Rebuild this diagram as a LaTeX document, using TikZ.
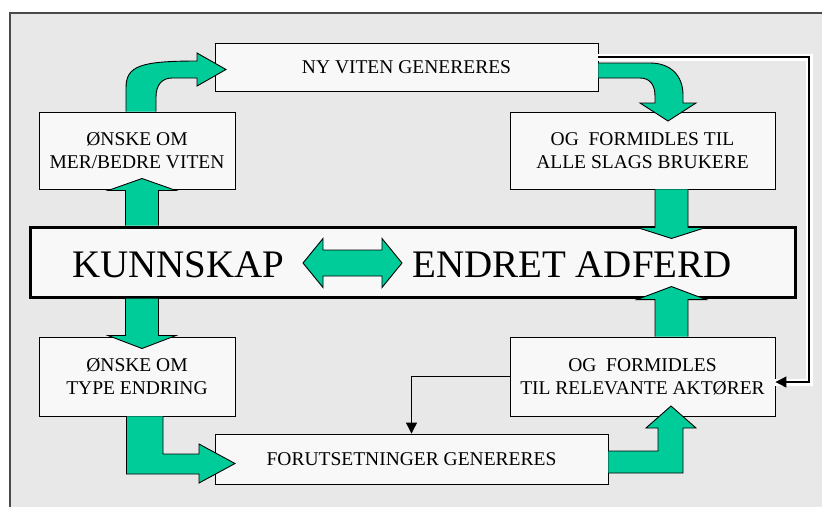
\documentclass[tikz,border=0pt]{standalone}
\usepackage{fontspec}
\setmainfont{Liberation Serif}
\usepackage{tikz}
\usetikzlibrary{arrows.meta}
\definecolor{bggray}{HTML}{E8E8E8}
\definecolor{boxfill}{HTML}{F8F8F8}
\definecolor{flowgreen}{HTML}{00CC99}
\definecolor{framegray}{HTML}{4A4A4A}

\begin{document}
\begin{tikzpicture}[
  x=1pt, y=-1pt,
  stepbox/.style={
    draw=black, fill=boxfill, line width=0.9pt,
    align=center, inner sep=0pt,
    font=\fontsize{19.5pt}{22.6pt}\selectfont
  },
  mainbox/.style={draw=black, fill=boxfill, line width=3pt, inner sep=0pt},
  bigtext/.style={font=\fontsize{39pt}{44pt}\selectfont, anchor=base, inner sep=0pt},
  blockarrow/.style={draw=black, fill=flowgreen, line width=0.9pt, line join=miter},
  thinarrow/.style={draw=black, line width=1.1pt, -{Triangle[length=11pt, width=11pt]}},
  halo/.style={draw=white, line width=7pt}
]

\useasboundingbox (0,0) rectangle (822,507);

% ---- Bakgrunn ----
\fill[bggray] (10,13) rectangle (822,507);
\draw[framegray, line width=1.5pt] (10,507) -- (10,13) -- (822,13);

% ---- Bokser ----
\node[stepbox, minimum width=383pt, minimum height=48pt] (nyviten) at (406.5,67)
  {NY VITEN GENERERES};
\node[stepbox, minimum width=196pt, minimum height=77pt] (mer) at (137,150.5)
  {ØNSKE OM\\MER/BEDRE VITEN};
\node[stepbox, minimum width=265pt, minimum height=77pt] (alle) at (642.5,150.5)
  {OG\ \ FORMIDLES TIL\\ALLE SLAGS BRUKERE};
\node[mainbox, minimum width=765pt, minimum height=70pt] (big) at (412.5,262) {};
\node[stepbox, minimum width=196pt, minimum height=79pt] (type) at (137,376.5)
  {ØNSKE OM\\TYPE ENDRING};
\node[stepbox, minimum width=265pt, minimum height=79pt] (relevant) at (642.5,376.5)
  {OG\ \ FORMIDLES\\TIL RELEVANTE AKTØRER};
\node[stepbox, minimum width=393pt, minimum height=50pt] (forut) at (411.5,459)
  {FORUTSETNINGER GENERERES};

% ---- Hovedtekst ----
\node[bigtext] (kunn) at (178.5,277) {KUNNSKAP};
\node[bigtext] (endret) at (572,277) {ENDRET ADFERD};
\filldraw[blockarrow] (303,263) -- (323,238.5) -- (323,250) -- (382,250) -- (382,238.5)
  -- (402,263) -- (382,287.5) -- (382,276) -- (323,276) -- (323,287.5) -- cycle;

% ---- Tynne piler ----
\draw[halo] (nyviten.east |- 0,57) -- (809,57) -- (809,382) -- (relevant.east |- 0,382);
\draw[thinarrow] (nyviten.east |- 0,57) -- (809,57) -- (809,382) -- (relevant.east |- 0,382);
\draw[thinarrow] (relevant.west) -| (forut.north);

% ---- Grønne piler ----
% opp til ønske om mer/bedre viten
\filldraw[blockarrow] (125.5,0 |- big.north) -- ++(0,-35) -- ++(-17.5,0) -- ++(34,-12)
  -- ++(34,12) -- ++(-17.5,0) -- ++(0,35);
% buet pil til ny viten
\filldraw[blockarrow] (126,0 |- mer.north) -- (126,88) .. controls (126,66) and (140,61) .. (197,61)
  -- (197,53) -- (226,69.5) -- (197,86) -- (197,78) -- (172,78)
  .. controls (162,78) and (156,85) .. (156,97) -- (156,0 |- mer.north);
% buet pil ned til alle slags brukere
\filldraw[blockarrow] (nyviten.east |- 0,63) -- (650,63) .. controls (670,63) and (683,75) .. (683,95)
  -- (683,103) -- (696,103) -- (668,121) -- (640,103) -- (655,103) -- (655,96)
  .. controls (655,85) and (650,78) .. (640,78) -- (nyviten.east |- 0,78);
% ned til endret adferd
\filldraw[blockarrow] (655,0 |- alle.south) -- ++(0,38) -- ++(-18,0) -- ++(34.5,11)
  -- ++(34.5,-11) -- ++(-18,0) -- ++(0,-38);
% opp fra relevante aktører
\filldraw[blockarrow] (655,0 |- relevant.north) -- ++(0,-37) -- ++(-18,0) -- ++(34.5,-13)
  -- ++(34.5,13) -- ++(-18,0) -- ++(0,37);
% ned til type endring
\filldraw[blockarrow] (125.5,0 |- big.south) -- ++(0,37) -- ++(-17.5,0) -- ++(34,13)
  -- ++(34,-13) -- ++(-17.5,0) -- ++(0,-37);
% vinkel til forutsetninger
\filldraw[blockarrow] (126.5,0 |- type.south) -- (126.5,474) -- (199,474) -- (199,483)
  -- (235,463.5) -- (199,444) -- (199,454) -- (163,454) -- (163,0 |- type.south);
% vinkel opp til relevante aktører
\filldraw[blockarrow] (forut.east |- 0,451) -- (658,451) -- (658,428) -- (646,428)
  -- (671,406) -- (696,428) -- (683,428) -- (683,473) -- (forut.east |- 0,473);

\end{tikzpicture}
\end{document}
